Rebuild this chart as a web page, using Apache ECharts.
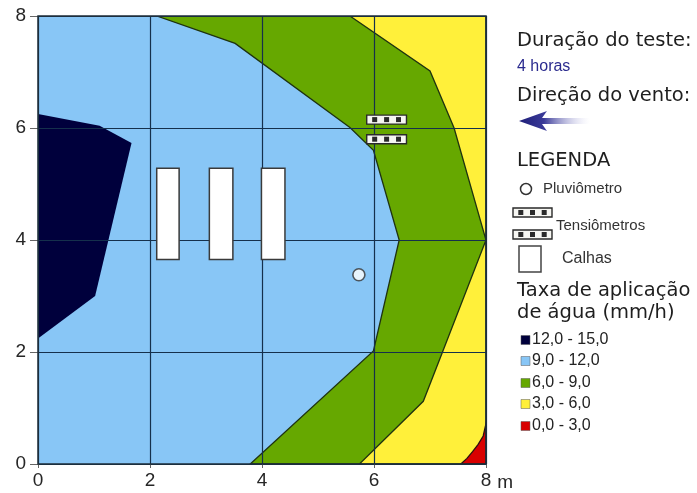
<!DOCTYPE html>
<html>
<head>
<meta charset="utf-8">
<script src="https://cdn.jsdelivr.net/npm/echarts@6/dist/echarts.min.js"></script>
<style>
  html, body { margin: 0; padding: 0; background: #ffffff; }
  #chart { width: 697px; height: 493px; }
</style>
</head>
<body>
<div id="chart"></div>
<script>
// Axis ticks (metres)
const xTicks = [0, 2, 4, 6, 8];
const yTicks = [0, 2, 4, 6, 8];

// Water application rate classes (mm/h)
const classLabels = ['12,0 - 15,0', '9,0 - 12,0', '6,0 - 9,0', '3,0 - 6,0', '0,0 - 3,0'];
const classColors = ['#00003c', '#88c6f6', '#66a800', '#fff03a', '#d80000'];

// Zone outlines, vertices as [x, y] in metres
const zone9to12 = [[0, 0], [8, 0], [8, 8], [0, 8]];
const zone12to15 = [[0, 6.25], [1.1, 6.04], [1.67, 5.73], [1.02, 3.0], [0, 2.24]];
const zone6to9 = [[2.12, 8], [3.52, 7.51], [5.57, 6.01], [5.99, 5.6], [6.45, 4.0], [5.99, 2.02], [3.79, 0], [8, 0], [8, 8]];
const zone3to6 = [[5.57, 8], [7.0, 7.02], [7.43, 6.0], [8, 4.0], [7.22, 1.99], [6.88, 1.12], [5.74, 0], [8, 0], [8, 8]];
const zone0to3 = [[8, 0.72], [7.95, 0.5], [7.86, 0.35], [7.76, 0.22], [7.66, 0.1], [7.55, 0], [8, 0]];

// Instruments: troughs [x0, x1, y0, y1], tensiometers [x0, x1, y0, y1], rain gauge [x, y]
const calhas = [[2.12, 2.52, 3.65, 5.28], [3.06, 3.48, 3.65, 5.28], [3.99, 4.41, 3.65, 5.28]];
const tensiometros = [[5.87, 6.58, 6.07, 6.23], [5.87, 6.58, 5.72, 5.88]];
const pluviometro = [[5.73, 3.38]];

const zones = [
  { pts: zone9to12, color: classColors[1], stroke: null },
  { pts: zone12to15, color: classColors[0], stroke: null },
  { pts: zone6to9, color: classColors[2], stroke: '#1e3210' },
  { pts: zone3to6, color: classColors[3], stroke: '#1e3210' },
  { pts: zone0to3, color: classColors[4], stroke: '#2a1010' }
];

// Tensiometer glyph: white bar with three dark cells
function tensioGlyph(x, y, w, h) {
  const kids = [{
    type: 'rect',
    shape: { x: x, y: y, width: w, height: h },
    style: { fill: '#f6f6f2', stroke: '#2a2a2a', lineWidth: 1.4 }
  }];
  [0.2, 0.5, 0.8].forEach(function (f) {
    kids.push({
      type: 'rect',
      shape: { x: x + w * f - 2.5, y: y + h / 2 - 2.5, width: 5, height: 5 },
      style: { fill: '#2a2a2a' }
    });
  });
  return kids;
}

const font = '"Liberation Sans", Arial, sans-serif';
const headFont = '19.5px "DejaVu Sans", Verdana, sans-serif';
const L = 517;

const graphics = [
  { type: 'text', x: L, y: 41, style: { text: 'Duração do teste:', font: headFont, fill: '#1e1e1e', verticalAlign: 'middle' } },
  { type: 'text', x: L, y: 67, style: { text: '4 horas', font: '16px ' + font, fill: '#2a2a8e', verticalAlign: 'middle' } },
  { type: 'text', x: L, y: 96, style: { text: 'Direção do vento:', font: headFont, fill: '#1e1e1e', verticalAlign: 'middle' } },
  {
    type: 'polygon',
    shape: { points: [[519, 121], [547, 111], [542, 118], [590, 118], [590, 124], [542, 124], [547, 131]] },
    style: {
      fill: {
        type: 'linear', x: 0, y: 0, x2: 1, y2: 0,
        colorStops: [
          { offset: 0, color: '#1e1e78' },
          { offset: 0.35, color: '#3a3a98' },
          { offset: 1, color: 'rgba(210,210,240,0)' }
        ]
      }
    }
  },
  { type: 'text', x: L, y: 161, style: { text: 'LEGENDA', font: headFont, fill: '#1e1e1e', verticalAlign: 'middle' } },
  { type: 'circle', shape: { cx: 526, cy: 189, r: 5.5 }, style: { fill: '#fff', stroke: '#333', lineWidth: 1.5 } },
  { type: 'text', x: 543, y: 189, style: { text: 'Pluviômetro', font: '15px ' + font, fill: '#333', verticalAlign: 'middle' } },
  { type: 'group', children: tensioGlyph(513, 208, 39, 9) },
  { type: 'group', children: tensioGlyph(513, 230, 39, 9) },
  { type: 'text', x: 556, y: 226, style: { text: 'Tensiômetros', font: '15px ' + font, fill: '#333', verticalAlign: 'middle' } },
  { type: 'rect', shape: { x: 519, y: 246, width: 22, height: 26 }, style: { fill: '#fff', stroke: '#444', lineWidth: 1.5 } },
  { type: 'text', x: 562, y: 259, style: { text: 'Calhas', font: '16px ' + font, fill: '#333', verticalAlign: 'middle' } },
  { type: 'text', x: L, y: 291, style: { text: 'Taxa de aplicação', font: headFont, fill: '#1e1e1e', verticalAlign: 'middle' } },
  { type: 'text', x: L, y: 313, style: { text: 'de água (mm/h)', font: headFont, fill: '#1e1e1e', verticalAlign: 'middle' } }
];

const rowY = [340, 361, 383, 404, 426];
classLabels.forEach(function (lab, i) {
  graphics.push({
    type: 'rect',
    shape: { x: 521, y: rowY[i] - 4.5, width: 9, height: 9 },
    style: { fill: classColors[i], stroke: 'rgba(90,90,90,0.5)', lineWidth: 1 }
  });
  graphics.push({
    type: 'text', x: 532, y: rowY[i],
    style: { text: lab, font: '16px ' + font, fill: '#222', verticalAlign: 'middle' }
  });
});

const chart = echarts.init(document.getElementById('chart'), null, { renderer: 'canvas' });

const axisLabelStyle = { fontSize: 19, color: '#262626', fontFamily: font };

chart.setOption({
  animation: false,
  backgroundColor: '#ffffff',
  grid: { left: 38, top: 16, width: 448, height: 448, containLabel: false },
  xAxis: {
    type: 'value', min: xTicks[0], max: xTicks[xTicks.length - 1], interval: 2, z: 3,
    axisLine: { show: false },
    axisTick: { show: true, length: 4, lineStyle: { color: '#666' } },
    axisLabel: Object.assign({ margin: 7 }, axisLabelStyle),
    splitLine: { show: true, lineStyle: { color: '#15304c', width: 1.2 } },
    name: 'm', nameLocation: 'end', nameGap: 6,
    nameTextStyle: { fontSize: 19, color: '#262626', fontFamily: font, verticalAlign: 'top', padding: [9, 0, 0, 0] }
  },
  yAxis: {
    type: 'value', min: yTicks[0], max: yTicks[yTicks.length - 1], interval: 2, z: 3,
    axisLine: { show: false },
    axisTick: { show: true, length: 8, lineStyle: { color: '#666' } },
    axisLabel: Object.assign({ margin: 12 }, axisLabelStyle),
    splitLine: { show: true, lineStyle: { color: '#15304c', width: 1.2 } }
  },
  graphic: { elements: graphics },
  series: [
    {
      type: 'custom', name: 'zonas', z: 1, clip: true,
      data: zones.map(function (z, i) { return [i]; }),
      renderItem: function (params, api) {
        const z = zones[params.dataIndex];
        return {
          type: 'polygon',
          shape: { points: z.pts.map(function (p) { return api.coord(p); }) },
          style: { fill: z.color, stroke: z.stroke || 'none', lineWidth: z.stroke ? 1.3 : 0 }
        };
      }
    },
    {
      type: 'custom', name: 'moldura', z: 5,
      data: [[0]],
      renderItem: function (params, api) {
        const a = api.coord([xTicks[0], yTicks[yTicks.length - 1]]);
        const b = api.coord([xTicks[xTicks.length - 1], yTicks[0]]);
        return {
          type: 'rect',
          shape: { x: a[0], y: a[1], width: b[0] - a[0], height: b[1] - a[1] },
          style: { fill: 'none', stroke: '#1e2e3a', lineWidth: 1.5 }
        };
      }
    },
    {
      type: 'custom', name: 'Calhas', z: 6,
      data: calhas,
      renderItem: function (params, api) {
        const a = api.coord([api.value(0), api.value(3)]);
        const b = api.coord([api.value(1), api.value(2)]);
        return {
          type: 'rect',
          shape: { x: a[0], y: a[1], width: b[0] - a[0], height: b[1] - a[1] },
          style: { fill: '#ffffff', stroke: '#3a3a3a', lineWidth: 1.5 }
        };
      }
    },
    {
      type: 'custom', name: 'Tensiômetros', z: 6,
      data: tensiometros,
      renderItem: function (params, api) {
        const a = api.coord([api.value(0), api.value(3)]);
        const b = api.coord([api.value(1), api.value(2)]);
        return { type: 'group', children: tensioGlyph(a[0], a[1], b[0] - a[0], b[1] - a[1]) };
      }
    },
    {
      type: 'scatter', name: 'Pluviômetro', z: 6,
      data: pluviometro,
      symbol: 'circle', symbolSize: 12,
      itemStyle: { color: '#ffffff', borderColor: '#333', borderWidth: 1.6 }
    }
  ]
});
</script>
</body>
</html>
